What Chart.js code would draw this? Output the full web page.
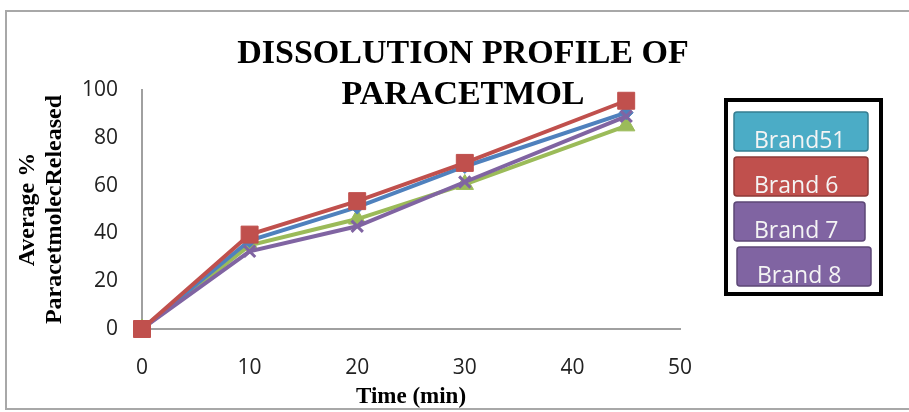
<!DOCTYPE html>
<html>
<head>
<meta charset="utf-8">
<script src="https://cdn.jsdelivr.net/npm/chart.js@4.4.1/dist/chart.umd.min.js"></script>
<style>
  html, body { margin: 0; padding: 0; background: #fff; overflow: hidden; }
  #wrap { position: relative; width: 909px; height: 412px; }
  #frame { position: absolute; left: 5px; top: 10px; width: 930px; height: 396px; border: 2px solid #a8a8a8; }
  #c { position: absolute; left: 0; top: 0; }
</style>
</head>
<body>
<div id="wrap">
  <div id="frame"></div>
  <canvas id="c" width="909" height="412"></canvas>
</div>
<script>
// data
const timeMin = [0, 10, 20, 30, 45];
const brand51 = [0, 37, 51, 68, 90.5];
const brand6 = [0, 39.5, 53.5, 69.5, 95.5];
const brand7 = [0, 35, 46, 60.5, 85];
const brand8 = [0, 32.5, 43, 61.5, 89];

const seriesLabels = ['Brand51', 'Brand 6', 'Brand 7', 'Brand 8'];
const lineColors = ['#4F81BD', '#C0504D', '#9BBB59', '#8064A2'];
const legendFill = ['#4BACC6', '#C0504D', '#8064A2', '#8064A2'];
const legendEdge = ['#357D91', '#8C3836', '#5C4776', '#5C4776'];

const titleLines = ['DISSOLUTION PROFILE OF', 'PARACETMOL'];
const yTitle = ['Average %', 'ParacetmolecReleased'];
const xTitle = 'Time (min)';

const toPoints = vals => vals.map((v, i) => ({ x: timeMin[i], y: v }));

// title sits partly over the plot, so it is drawn by hand
const titlePlugin = {
    id: 'bigTitle',
    afterDraw(chart) {
        const ctx = chart.ctx;
        ctx.save();
        ctx.fillStyle = '#000';
        ctx.font = 'bold 34px "Liberation Serif", "Times New Roman", serif';
        ctx.textAlign = 'center';
        ctx.textBaseline = 'alphabetic';
        titleLines.forEach((t, i) => ctx.fillText(t, 463, 63 + i * 41));
        ctx.restore();
    }
};

// boxed legend on the right, one filled bar per series
const legendPlugin = {
    id: 'boxLegend',
    afterDraw(chart) {
        const ctx = chart.ctx;
        const left = chart.chartArea.right + 46;
        ctx.save();
        ctx.lineWidth = 4;
        ctx.strokeStyle = '#000';
        ctx.strokeRect(left, 100, 155, 194);
        ctx.font = '23px "Open Sans", sans-serif';
        ctx.textBaseline = 'alphabetic';
        chart.data.datasets.forEach((ds, i) => {
            const bx = left + 8 + (i === 3 ? 3 : 0);
            const by = 112 + i * 45;
            const bw = i === 2 ? 131 : 134;
            ctx.beginPath();
            ctx.roundRect(bx, by, bw, 39, 3);
            ctx.fillStyle = legendFill[i];
            ctx.fill();
            ctx.lineWidth = 1.5;
            ctx.strokeStyle = legendEdge[i];
            ctx.stroke();
            ctx.fillStyle = '#f4f4f4';
            ctx.fillText(ds.label, bx + 20, by + 36);
        });
        ctx.restore();
    }
};

const markers = [
    { pointStyle: 'rectRot', pointRadius: 7 },
    { pointStyle: 'rect', pointRadius: 12 },
    { pointStyle: 'triangle', pointRadius: 10 },
    { pointStyle: 'crossRot', pointRadius: 8 }
];
const drawOrder = [2, 0, 3, 1];

new Chart(document.getElementById('c'), {
    type: 'line',
    data: {
        datasets: [brand51, brand6, brand7, brand8].map((vals, i) => ({
            label: seriesLabels[i],
            data: toPoints(vals),
            borderColor: lineColors[i],
            backgroundColor: lineColors[i],
            pointBackgroundColor: lineColors[i],
            pointBorderColor: lineColors[i],
            pointBorderWidth: i === 3 ? 3 : 1,
            borderWidth: 4,
            tension: 0,
            clip: false,
            order: drawOrder[i],
            ...markers[i]
        }))
    },
    options: {
        responsive: false,
        animation: false,
        layout: { padding: { left: 6, right: 229, top: 90, bottom: 1 } },
        plugins: {
            legend: { display: false },
            title: { display: false },
            tooltip: { enabled: false }
        },
        scales: {
            x: {
                type: 'linear',
                min: 0,
                max: 50,
                grid: { display: false, drawTicks: false },
                border: { display: true, color: '#a0a0a0', width: 2 },
                ticks: {
                    stepSize: 10,
                    padding: 26,
                    color: '#222',
                    font: { family: '"Open Sans", sans-serif', size: 21, lineHeight: 1.2 }
                },
                title: {
                    display: true,
                    text: xTitle,
                    color: '#000',
                    padding: 0,
                    font: { family: '"Liberation Serif", "Times New Roman", serif', size: 23, weight: 'bold', lineHeight: 1.2 }
                },
                afterFit(s) { s.height = 82; }
            },
            y: {
                min: 0,
                max: 100,
                grid: { display: false, drawTicks: false },
                border: { display: true, color: '#a0a0a0', width: 2 },
                ticks: {
                    stepSize: 20,
                    padding: 24,
                    color: '#222',
                    font: { family: '"Open Sans", sans-serif', size: 21, lineHeight: 1.2 }
                },
                title: {
                    display: true,
                    text: yTitle,
                    color: '#000',
                    padding: { top: 8, bottom: 0 },
                    font: { family: '"Liberation Serif", "Times New Roman", serif', size: 24, weight: 'bold', lineHeight: 1.125 }
                },
                afterFit(s) { s.width = 136; }
            }
        }
    },
    plugins: [titlePlugin, legendPlugin]
});
</script>
</body>
</html>
